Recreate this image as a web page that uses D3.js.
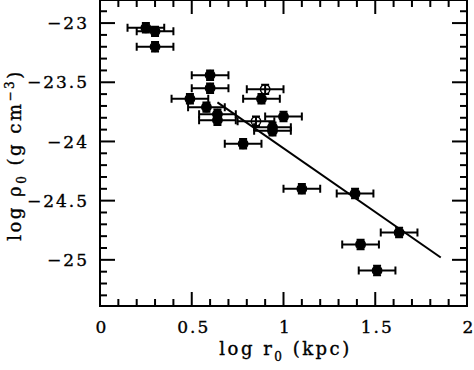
<!DOCTYPE html>
<html>
<head>
<meta charset="utf-8">
<script src="https://cdn.jsdelivr.net/npm/d3@7"></script>
<style>
  body { margin: 0; background: #fff; }
  text { font-family: "DejaVu Serif", "Liberation Serif", serif; fill: #000; stroke: #000; stroke-width: 0.35px; }
</style>
</head>
<body>
<div id="chart"></div>
<script>
// log r0 (kpc), log rho0 (g cm^-3), open marker flag
const logR = [0.25, 0.30, 0.30, 0.60, 0.60, 0.49, 0.58, 0.64, 0.64, 0.78, 0.90, 0.88, 0.85, 1.00, 0.94, 0.94, 1.10, 1.39, 1.63, 1.42, 1.51];
const logRho = [-23.04, -23.07, -23.20, -23.44, -23.55, -23.64, -23.71, -23.77, -23.82, -24.02, -23.56, -23.64, -23.83, -23.79, -23.88, -23.91, -24.40, -24.44, -24.77, -24.87, -25.09];
const isOpen = [0, 0, 0, 0, 0, 0, 0, 0, 0, 0, 1, 0, 1, 0, 0, 0, 0, 0, 0, 0, 0];
const errR = 0.1;
const errRho = 0.04;

// fitted relation
const fitR = [0.64, 1.857];
const fitRho = [-23.67, -24.98];

const xTicks = [0, 0.5, 1, 1.5, 2];
const yTicks = [-23, -23.5, -24, -24.5, -25];

const width = 474, height = 370;
const mLeft = 100, mRight = 467, mTop = 0, mBottom = 306;

const svg = d3.select("#chart").append("svg")
    .attr("width", width)
    .attr("height", height);

const x = d3.scaleLinear().domain([0, 2]).range([mLeft, mRight]);
const y = d3.scaleLinear().domain([-25.39, -22.805]).range([mBottom, mTop]);

const minorX = d3.range(0, 2.0001, 0.1);
const minorY = d3.range(-25.3, -22.8, 0.1);

const isMajor = v => Math.abs(v * 2 - Math.round(v * 2)) < 1e-6;

// ticks on all four sides, pointing inward
const tickG = svg.append("g").attr("stroke", "#000").attr("stroke-width", 2);
minorX.forEach(v => {
    const len = isMajor(v) ? 14 : 7;
    tickG.append("line").attr("x1", x(v)).attr("x2", x(v)).attr("y1", mBottom).attr("y2", mBottom - len);
    tickG.append("line").attr("x1", x(v)).attr("x2", x(v)).attr("y1", mTop).attr("y2", mTop + len);
});
minorY.forEach(v => {
    const len = isMajor(v) ? 15 : 7;
    tickG.append("line").attr("y1", y(v)).attr("y2", y(v)).attr("x1", mLeft).attr("x2", mLeft + len);
    tickG.append("line").attr("y1", y(v)).attr("y2", y(v)).attr("x1", mRight).attr("x2", mRight - len);
});

svg.append("rect")
    .attr("x", mLeft).attr("y", mTop)
    .attr("width", mRight - mLeft).attr("height", mBottom - mTop)
    .attr("fill", "none").attr("stroke", "#000").attr("stroke-width", 2);

// tick labels
svg.selectAll(".xlab").data(xTicks).enter().append("text")
    .attr("class", "xlab")
    .attr("x", d => x(d) + 2)
    .attr("y", 333)
    .attr("text-anchor", "middle")
    .style("font-size", "17px")
    .style("letter-spacing", "2px")
    .text(d => d3.format("")(d));

svg.selectAll(".ylab").data(yTicks).enter().append("text")
    .attr("class", "ylab")
    .attr("x", 89)
    .attr("y", d => y(d))
    .attr("dy", "0.36em")
    .attr("text-anchor", "end")
    .style("font-size", "17px")
    .style("letter-spacing", "2px")
    .text(d => "\u2212" + d3.format("")(-d));

// axis titles
const xt = svg.append("text")
    .attr("x", x(1) + 2)
    .attr("y", 355)
    .attr("text-anchor", "middle")
    .style("font-size", "18px")
    .style("letter-spacing", "2.5px");
xt.append("tspan").text("log r");
xt.append("tspan").attr("dy", 6).style("font-size", "12px").text("0");
xt.append("tspan").attr("dy", -6).text(" (kpc)");

const yt = svg.append("text")
    .attr("transform", `translate(21,${(mTop + mBottom) / 2 + 2}) rotate(-90)`)
    .attr("text-anchor", "middle")
    .style("font-size", "18px")
    .style("letter-spacing", "2.5px");
yt.append("tspan").text("log \u03c1");
yt.append("tspan").attr("dy", 5).style("font-size", "12px").text("0");
yt.append("tspan").attr("dy", -5).text(" (g cm");
yt.append("tspan").attr("dy", -7).style("font-size", "12px").text("\u22123");
yt.append("tspan").attr("dy", 7).text(")");

// fitted line
svg.append("path")
    .datum(d3.zip(fitR, fitRho))
    .attr("fill", "none")
    .attr("stroke", "#000")
    .attr("stroke-width", 2)
    .attr("d", d3.line().x(d => x(d[0])).y(d => y(d[1])));

// data points with error bars
const pts = d3.range(logR.length).map(i => ({ r: logR[i], rho: logRho[i], open: isOpen[i] }));
const g = svg.append("g");
const pt = g.selectAll(".pt").data(pts).enter().append("g").attr("class", "pt");

pt.append("circle")
    .attr("cx", d => x(d.r))
    .attr("cy", d => y(d.rho))
    .attr("r", 4.7)
    .attr("fill", d => d.open ? "#fff" : "#000")
    .attr("stroke", "#000")
    .attr("stroke-width", 1.5);

const cap = 4;
pt.append("path")
    .attr("fill", "none")
    .attr("stroke", "#000")
    .attr("stroke-width", 2)
    .attr("d", d => {
        const x0 = x(d.r - errR), x1 = x(d.r + errR), cx = x(d.r);
        const y0 = y(d.rho - errRho), y1 = y(d.rho + errRho), cy = y(d.rho);
        return `M${x0},${cy}H${x1}M${x0},${cy - cap}V${cy + cap}M${x1},${cy - cap}V${cy + cap}` +
               `M${cx},${y0}V${y1}M${cx - cap},${y0}H${cx + cap}M${cx - cap},${y1}H${cx + cap}`;
    });
</script>
</body>
</html>
